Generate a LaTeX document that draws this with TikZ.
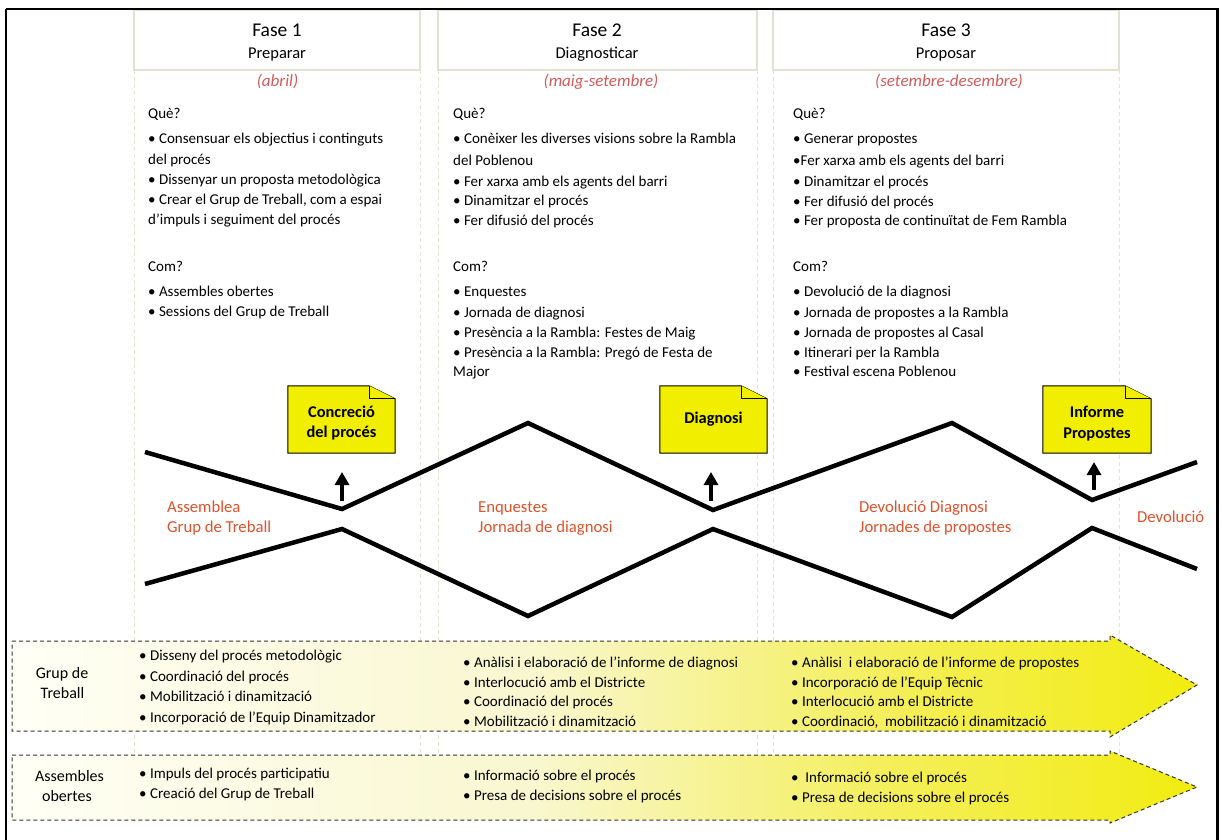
\documentclass[tikz,border=0pt]{standalone}
\usepackage{fontspec}
\setmainfont{Carlito}
\usetikzlibrary{arrows.meta}
\definecolor{hdr}{HTML}{E4E0D4}
\definecolor{coll}{HTML}{E6E2D6}
\definecolor{redlab}{HTML}{E2512A}
\definecolor{datec}{HTML}{D45A5A}
\definecolor{noteY}{HTML}{F2EE00}
\definecolor{shA}{HTML}{FFFFF6}
\definecolor{shB}{HTML}{F9F7CF}
\definecolor{shC}{HTML}{F4EF5A}
\definecolor{shD}{HTML}{F2EC10}
\pgfdeclarehorizontalshading{yshade}{100bp}{color(0bp)=(shA); color(25bp)=(shA); color(47bp)=(shB); color(62bp)=(shC); color(75bp)=(shD); color(100bp)=(shD)}
\newcommand\fsbody{\fontsize{15}{18}\selectfont}
\tikzset{
  tl/.style={anchor=mid west, inner sep=0pt, yshift=-3.5pt, font=\fsbody},
  hdrbox/.style={draw=hdr, line width=1.2pt, fill=white, inner sep=0pt},
  colline/.style={coll, dash pattern=on 4pt off 3pt, line width=0.8pt},
  fase/.style={anchor=mid, inner sep=0pt, yshift=-4pt, font=\fontsize{19.5}{22}\selectfont},
  fname/.style={anchor=mid, inner sep=0pt, yshift=-3.5pt, font=\fontsize{16.5}{20}\selectfont},
  datelab/.style={anchor=mid, inner sep=0pt, yshift=-3.5pt, text=datec, font=\fontsize{17}{20}\selectfont\itshape},
  redtxt/.style={anchor=mid west, inner sep=0pt, yshift=-3.5pt, text=redlab, font=\fontsize{16.7}{20}\selectfont},
  zig/.style={line width=4.5pt},
  uparrow/.style={line width=4.5pt, -{Triangle[width=14pt,length=13pt]}},
  notebox/.style={inner sep=0pt, align=center, font=\fontsize{16.4}{20}\selectfont\bfseries},
  notetxt/.style={notebox, anchor=mid, yshift=-3.5pt},
  notedraw/.style={fill=noteY, draw=black, line width=1pt, line join=miter},
  bigarrow/.style={shading=yshade, shade, draw=black!80, dash pattern=on 4pt off 3pt, line width=1pt},
  sidelab/.style={anchor=mid, inner sep=0pt, yshift=-3.5pt, font=\fontsize{16}{20}\selectfont},
}
\begin{document}
\begin{tikzpicture}[x=1pt,y=-1pt]
\useasboundingbox (0,0) rectangle (1222,839);

% column guide lines
\foreach \xa/\xb in {134/420, 438/757, 773/1119}
  \draw[colline] (\xa,70) -- (\xa,822) (\xb,70) -- (\xb,822);

% header boxes
\node[hdrbox, minimum width=286pt, minimum height=60pt] (h1) at (277,40) {};
\node[hdrbox, minimum width=319pt, minimum height=60pt] (h2) at (597.5,40) {};
\node[hdrbox, minimum width=346pt, minimum height=60pt] (h3) at (946,40) {};
\node[fase] (f1) at (277,30) {Fase 1};
\node[fase] (f2) at (597,30) {Fase 2};
\node[fase] (f3) at (946,30) {Fase 3};
\node[fname] (p1) at (277,53) {Preparar};
\node[fname] (p2) at (597,53) {Diagnosticar};
\node[fname] (p3) at (946,53) {Proposar};
\node[datelab] (d1) at (277.5,81) {(abril)};
\node[datelab] (d2) at (601,81) {(maig-setembre)};
\node[datelab] (d3) at (949,81) {(setembre-desembre)};

% column 1 texts
\foreach \yy/\txt [count=\i] in {113/{Què?}, 138/{• Consensuar els objectius i continguts}, 159/{del procés}, 179/{• Dissenyar un proposta metodològica}, 199/{• Crear el Grup de Treball, com a espai}, 219/{d’impuls i seguiment del procés}, 266/{Com?}, 291/{• Assembles obertes}, 311/{• Sessions del Grup de Treball}}
  \node[tl, name=ca\i] at (148,\yy) {\txt};
% column 2 texts
\foreach \yy/\txt [count=\i] in {113/{Què?}, 138/{• Conèixer les diverses visions sobre la Rambla}, 160/{del Poblenou}, 181/{• Fer xarxa amb els agents del barri}, 200/{• Dinamitzar el procés}, 220/{• Fer difusió del procés}, 266/{Com?}, 291/{• Enquestes}, 312/{• Jornada de diagnosi}, 332/{• Presència a la Rambla: Festes de Maig}, 352/{• Presència a la Rambla: Pregó de Festa de}, 371/{Major}}
  \node[tl, name=cb\i] at (453,\yy) {\txt};
% column 3 texts
\foreach \yy/\txt [count=\i] in {113/{Què?}, 138/{• Generar propostes}, 160/{•Fer xarxa amb els agents del barri}, 181/{• Dinamitzar el procés}, 201/{• Fer difusió del procés}, 220/{• Fer proposta de continuïtat de Fem Rambla}, 266/{Com?}, 291/{• Devolució de la diagnosi}, 312/{• Jornada de propostes a la Rambla}, 332/{• Jornada de propostes al Casal}, 352/{• Itinerari per la Rambla}, 371/{• Festival escena Poblenou}}
  \node[tl, name=cc\i] at (793,\yy) {\txt};

% zigzag lines
\draw[zig] (145,452) -- (342,509) -- (528,423) -- (713,510) -- (952,423) -- (1092,500) -- (1197,462);
\draw[zig] (145,584) -- (342,529) -- (528,616) -- (713,529) -- (952,617) -- (1092,528) -- (1197,569);

% red labels
\node[redtxt] (r1) at (167,507) {Assemblea};
\node[redtxt] (r2) at (167,527) {Grup de Treball};
\node[redtxt] (r3) at (478,507) {Enquestes};
\node[redtxt] (r4) at (478,527) {Jornada de diagnosi};
\node[redtxt] (r5) at (859,507) {Devolució Diagnosi};
\node[redtxt] (r6) at (859,527) {Jornades de propostes};
\node[redtxt] (r7) at (1137,517) {Devolució};

% notes
\node[notebox, minimum width=107pt, minimum height=67pt] (n1) at (341.5,419.5) {};
\node[notebox, minimum width=107pt, minimum height=67pt] (n2) at (713.5,419.5) {};
\node[notebox, minimum width=108pt, minimum height=67pt] (n3) at (1097,419.5) {};
\foreach \n in {n1,n2,n3}{
  \draw[notedraw] (\n.south west) -- (\n.north west) -- ([xshift=-26pt]\n.north east) -- ([yshift=-13pt]\n.north east) -- (\n.south east) -- cycle;
  \draw[notedraw] ([xshift=-26pt]\n.north east) -- ([xshift=-26pt,yshift=-13pt]\n.north east) -- ([yshift=-13pt]\n.north east);
}
\node[notetxt] (t1) at (341.5,412) {Concreció};
\node[notetxt] (t1b) at (341.5,432) {del procés};
\node[notetxt] (t2) at (713.5,418) {Diagnosi};
\node[notetxt] (t3) at (1097,412) {Informe};
\node[notetxt] (t3b) at (1097,433) {Propostes};

% up arrows
\coordinate (a1s) at (342,501); \coordinate (a1e) at (342,472);
\coordinate (a2s) at (711,501); \coordinate (a2e) at (711,472);
\coordinate (a3s) at (1094,490); \coordinate (a3e) at (1094,462);
\draw[uparrow] (a1s) -- (a1e);
\draw[uparrow] (a2s) -- (a2e);
\draw[uparrow] (a3s) -- (a3e);

% bottom big arrows
\path[bigarrow] (12,641) -- (1110,641) -- (1110,635) -- (1197,685) -- (1110,737) -- (1110,731) -- (12,731) -- cycle;
\path[bigarrow] (12,755) -- (1110,755) -- (1110,751) -- (1197,787) -- (1110,823) -- (1110,820) -- (12,820) -- cycle;

\node[sidelab] (g1) at (62,673) {Grup de};
\node[sidelab] (g2) at (62.5,693) {Treball};
\node[sidelab] (s1) at (69.5,776) {Assembles};
\node[sidelab] (s2) at (67,796) {obertes};

\foreach \yy/\txt [count=\i] in {655/{• Disseny del procés metodològic}, 676/{• Coordinació del procés}, 696/{• Mobilització i dinamització}, 717/{• Incorporació de l’Equip Dinamitzador}}
  \node[tl, name=ga\i] at (139,\yy) {\txt};
\foreach \yy/\txt [count=\i] in {662/{• Anàlisi i elaboració de l’informe de diagnosi}, 682/{• Interlocució amb el Districte}, 701/{• Coordinació del procés}, 721/{• Mobilització i dinamització}}
  \node[tl, name=gb\i] at (463,\yy) {\txt};
\foreach \yy/\txt [count=\i] in {662/{• Anàlisi\ \ i elaboració de l’informe de propostes}, 682/{• Incorporació de l’Equip Tècnic}, 701/{• Interlocució amb el Districte}, 721/{• Coordinació,\ \ mobilització i dinamització}}
  \node[tl, name=gc\i] at (791,\yy) {\txt};
\foreach \yy/\txt [count=\i] in {773/{• Impuls del procés participatiu}, 793/{• Creació del Grup de Treball}}
  \node[tl, name=aa\i] at (139,\yy) {\txt};
\foreach \yy/\txt [count=\i] in {775/{• Informació sobre el procés}, 795/{• Presa de decisions sobre el procés}}
  \node[tl, name=ab\i] at (463,\yy) {\txt};
\foreach \yy/\txt [count=\i] in {777/{•\ \ Informació sobre el procés}, 797/{• Presa de decisions sobre el procés}}
  \node[tl, name=ac\i] at (791,\yy) {\txt};

% outer frame
\draw[line width=2.8pt] (6,9) -- (6,850) (6,9) -- (1217.5,9) -- (1217.5,850);
\end{tikzpicture}
\end{document}
